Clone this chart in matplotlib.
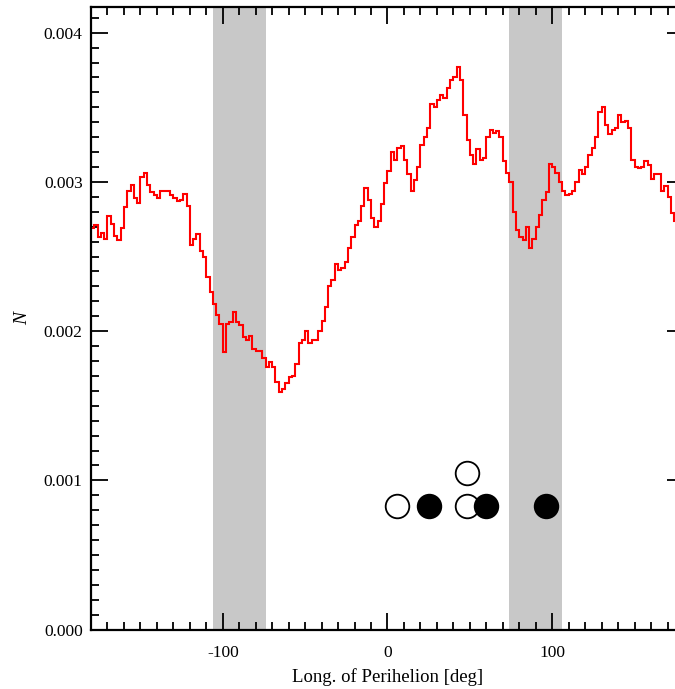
import numpy as np
import matplotlib
matplotlib.use('Agg')
import matplotlib.pyplot as plt
from matplotlib.ticker import MultipleLocator

plt.rcParams['font.family'] = ['Liberation Serif', 'DejaVu Serif']

# histogram of longitude of perihelion, 2 deg bins starting at -180
binStart = -180
binWidth = 2
counts = [
	0.00269, 0.00271, 0.00263, 0.00266, 0.00262, 0.00277, 0.00272, 0.00264, 0.00261, 0.00269,
	0.00283, 0.00294, 0.00298, 0.00289, 0.00286, 0.00303, 0.00306, 0.00298, 0.00293, 0.00291,
	0.00289, 0.00294, 0.00294, 0.00294, 0.00291, 0.00289, 0.00287, 0.00288, 0.00292, 0.00284,
	0.00258, 0.00262, 0.00265, 0.00254, 0.00250, 0.00236, 0.00226, 0.00218, 0.00211, 0.00205,
	0.00186, 0.00205, 0.00206, 0.00213, 0.00206, 0.00204, 0.00196, 0.00194, 0.00197, 0.00188,
	0.00187, 0.00187, 0.00182, 0.00176, 0.00179, 0.00176, 0.00166, 0.00159, 0.00161, 0.00165,
	0.00169, 0.00170, 0.00178, 0.00192, 0.00194, 0.00200, 0.00192, 0.00194, 0.00194, 0.00200,
	0.00207, 0.00216, 0.00230, 0.00234, 0.00245, 0.00241, 0.00242, 0.00246, 0.00256, 0.00263,
	0.00271, 0.00274, 0.00284, 0.00296, 0.00288, 0.00276, 0.00270, 0.00274, 0.00285, 0.00299,
	0.00307, 0.00320, 0.00315, 0.00323, 0.00324, 0.00315, 0.00305, 0.00294, 0.00301, 0.00310,
	0.00325, 0.00330, 0.00336, 0.00352, 0.00350, 0.00355, 0.00358, 0.00356, 0.00363, 0.00368,
	0.00370, 0.00377, 0.00368, 0.00345, 0.00328, 0.00318, 0.00312, 0.00322, 0.00315, 0.00316,
	0.00330, 0.00335, 0.00333, 0.00334, 0.00330, 0.00314, 0.00306, 0.00300, 0.00280, 0.00268,
	0.00263, 0.00261, 0.00270, 0.00256, 0.00262, 0.00270, 0.00278, 0.00288, 0.00293, 0.00312,
	0.00310, 0.00306, 0.00300, 0.00294, 0.00291, 0.00292, 0.00294, 0.00300, 0.00308, 0.00305,
	0.00310, 0.00318, 0.00323, 0.00330, 0.00347, 0.00350, 0.00338, 0.00332, 0.00335, 0.00336,
	0.00345, 0.00340, 0.00341, 0.00336, 0.00315, 0.00310, 0.00309, 0.00310, 0.00314, 0.00311,
	0.00302, 0.00305, 0.00305, 0.00294, 0.00297, 0.00290, 0.00279, 0.00274, 0.00271, 0.00269,
]

# shaded regions (deg)
bands = [(-106, -74), (74, 106)]

# planets / objects
openX = [6, 48, 48.5]
openY = [0.00083, 0.00083, 0.00105]
filledX = [25, 60, 96]
filledY = [0.00083, 0.00083, 0.00083]

edges = binStart + binWidth * np.arange(len(counts) + 1)

fig = plt.figure(figsize=(6.75, 6.89), dpi=100)
ax = fig.add_axes([0.1348, 0.0862, 0.8785, 0.9032])

for b in bands:
	ax.axvspan(b[0], b[1], color='#c8c8c8', lw=0, zorder=1)

ax.stairs(counts, edges, color='red', lw=1.5, baseline=None, zorder=2)

ax.plot(openX, openY, 'o', ms=17, mfc='white', mec='black', mew=1.3, zorder=3)
ax.plot(filledX, filledY, 'o', ms=17, mfc='black', mec='black', mew=1.3, zorder=4)

ax.set_xlim(-180, 180)
ax.set_ylim(0, 0.00417)
ax.xaxis.set_major_locator(MultipleLocator(100))
ax.xaxis.set_minor_locator(MultipleLocator(10))
ax.yaxis.set_major_locator(MultipleLocator(0.001))
ax.yaxis.set_minor_locator(MultipleLocator(0.0001))
ax.yaxis.set_major_formatter(plt.FuncFormatter(lambda v, p: '%.3f' % v))
ax.xaxis.set_major_formatter(plt.FuncFormatter(lambda v, p: '%d' % v))

ax.tick_params(which='both', direction='in', top=True, right=True, width=1.3, labelsize=12.5)
ax.tick_params(axis='x', pad=11)
ax.tick_params(axis='y', pad=6)
ax.tick_params(which='major', length=12)
ax.tick_params(which='minor', length=6)
for s in ax.spines.values():
	s.set_linewidth(1.6)

ax.set_xlabel('Long. of Perihelion [deg]', fontsize=13.5, labelpad=5)
ax.set_ylabel('N', fontsize=14, fontstyle='italic', labelpad=9)

plt.savefig('out.png', dpi=100)
